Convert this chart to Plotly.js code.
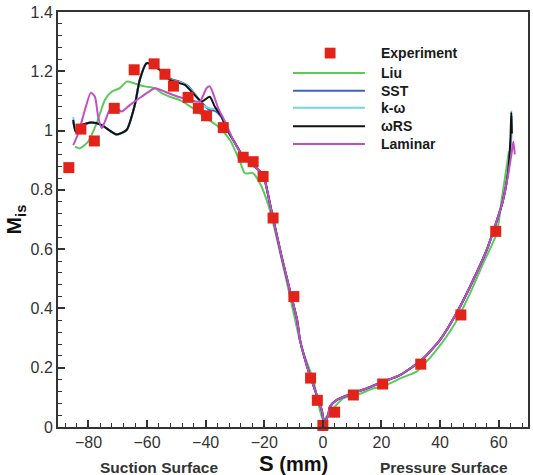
<!DOCTYPE html>
<html>
<head>
<meta charset="utf-8">
<script src="https://cdn.plot.ly/plotly-3.0.1.min.js"></script>
<style>
  html, body { margin: 0; padding: 0; background: #fff; }
  #chart { width: 533px; height: 475px; }
</style>
</head>
<body>
<div id="chart"></div>
<script>
// Isentropic Mach number along the blade surface, S < 0 suction side, S > 0 pressure side

// Measured values
const expS = [-86.7, -82.6, -78, -71.2, -64.4, -57.6, -53.9, -51, -46, -42.5, -39.7, -34, -27.2, -23.8, -20.4, -17, -9.9, -4.2, -1.9, 0, 4, 10.4, 20.4, 33.4, 47.1, 59];
const expM = [0.875, 1.005, 0.965, 1.075, 1.205, 1.225, 1.19, 1.15, 1.112, 1.075, 1.05, 1.01, 0.91, 0.895, 0.845, 0.705, 0.44, 0.165, 0.09, 0.005, 0.05, 0.108, 0.145, 0.212, 0.378, 0.66];

// Liu model
const liuS = [-84.6, -82.9, -80.1, -77.2, -74.4, -72.1, -69.3, -67, -64.2, -60.8, -57.3, -55, -52.2, -48.8, -44.3, -39.7, -35.7, -31.7, -28.3, -26.6, -23.8, -21.5, -19.2, -17.5, -13, -7.3, -3.3, 0.1, 3, 7, 11.5, 17.2, 20, 22.9, 27.4, 32, 33.7, 38.8, 45.1, 50.2, 54.7, 59.3, 61, 63.5];
const liuM = [0.946, 0.94, 0.963, 1.025, 1.103, 1.131, 1.143, 1.165, 1.159, 1.149, 1.143, 1.126, 1.114, 1.103, 1.075, 1.041, 1.013, 0.968, 0.895, 0.856, 0.856, 0.822, 0.766, 0.71, 0.519, 0.271, 0.159, 0.024, 0.057, 0.097, 0.108, 0.13, 0.134, 0.147, 0.168, 0.187, 0.203, 0.26, 0.35, 0.451, 0.552, 0.653, 0.766, 0.93];

// SST model
const sstS = [-85.2, -84.4, -82.9, -79, -75.6, -70.4, -67, -64.2, -62.5, -60.2, -57.9, -55, -52.2, -48.8, -46, -43.5, -41, -38.6, -36.5, -34.6, -32.9, -30.6, -27.2, -22.6, -20.4, -17.5, -14.1, -11.3, -8.8, -7.8, -5, -2.7, -0.4, 0.5, 1.8, 2.4, 4.7, 9.2, 14.9, 20.6, 26.3, 33.7, 39.9, 46.2, 51.3, 55.9, 58.7, 61.5, 63.2, 64.2, 64.4];
const sstM = [1.03, 1.0, 1.016, 1.027, 1.019, 0.987, 1.002, 1.086, 1.171, 1.227, 1.221, 1.2, 1.175, 1.165, 1.15, 1.12, 1.09, 1.07, 1.065, 1.045, 1.008, 0.968, 0.912, 0.873, 0.85, 0.726, 0.575, 0.462, 0.361, 0.293, 0.192, 0.125, 0.057, 0.012, 0.04, 0.068, 0.091, 0.11, 0.13, 0.153, 0.175, 0.226, 0.293, 0.395, 0.496, 0.597, 0.676, 0.766, 0.86, 0.97, 1.05];

// k-omega model
const kwS = [-85.2, -84.4, -82.9, -79, -75.6, -70.4, -67, -64.2, -62.5, -60.2, -57.9, -55, -52.2, -48.8, -46, -43.5, -41, -38.6, -36.3, -34.6, -32.9, -30.6, -27.2, -22.6, -20.4, -17.5, -14.1, -11.3, -8.8, -7.8, -5, -2.7, -0.4, 0.5, 1.8, 2.4, 4.7, 9.2, 14.9, 20.6, 26.3, 33.7, 39.9, 46.2, 51.3, 55.9, 58.7, 61.5, 63.2, 64.2, 64.3];
const kwM = [1.045, 1.0, 1.016, 1.027, 1.019, 0.987, 1.002, 1.086, 1.171, 1.227, 1.221, 1.2, 1.172, 1.163, 1.148, 1.118, 1.086, 1.075, 1.07, 1.047, 1.008, 0.968, 0.912, 0.873, 0.85, 0.726, 0.575, 0.462, 0.361, 0.293, 0.192, 0.125, 0.057, 0.012, 0.04, 0.068, 0.091, 0.11, 0.13, 0.153, 0.175, 0.226, 0.293, 0.395, 0.496, 0.597, 0.676, 0.766, 0.86, 0.97, 1.067];

// omega-RS model
const rsS = [-85.2, -84.4, -82.9, -79, -75.6, -70.4, -67, -64.2, -62.5, -60.2, -57.9, -55, -52.2, -49, -47.1, -44.3, -41.4, -38.6, -36.9, -34.6, -32.9, -30.6, -27.2, -22.6, -20.4, -17.5, -14.1, -11.3, -8.8, -7.8, -5, -2.7, -0.4, 0.5, 1.8, 2.4, 4.7, 9.2, 14.9, 20.6, 26.3, 33.7, 39.9, 46.2, 51.3, 55.9, 58.7, 61.5, 63.2, 64.0, 64.3, 64.5];
const rsM = [1.036, 0.996, 1.016, 1.027, 1.019, 0.987, 1.002, 1.086, 1.171, 1.227, 1.221, 1.199, 1.171, 1.16, 1.154, 1.126, 1.098, 1.114, 1.081, 1.047, 1.008, 0.968, 0.912, 0.873, 0.85, 0.726, 0.575, 0.462, 0.361, 0.293, 0.192, 0.125, 0.057, 0.012, 0.04, 0.068, 0.091, 0.11, 0.13, 0.153, 0.175, 0.226, 0.293, 0.395, 0.496, 0.597, 0.676, 0.766, 0.86, 0.97, 1.06, 0.99];

// Laminar computation
const lamS = [-85.2, -83.5, -81.2, -79.2, -77.8, -76.7, -75.5, -74.4, -72.7, -70.4, -68.7, -65.9, -61.9, -57.3, -53.9, -51.1, -45.4, -42, -39.7, -38.6, -37.5, -35.7, -33.4, -30.6, -27.2, -22.6, -20.4, -17.5, -14.1, -11.3, -8.8, -7.8, -5, -2.7, -0.4, 0.5, 1.8, 2.4, 4.7, 9.2, 14.9, 20.6, 26.3, 33.7, 39.9, 46.2, 51.3, 55.9, 58.7, 61.5, 63.2, 64.4, 65, 65.5];
const lamM = [0.951, 0.99, 1.07, 1.128, 1.114, 1.047, 1.008, 1.03, 1.07, 1.075, 1.064, 1.086, 1.114, 1.143, 1.131, 1.12, 1.103, 1.098, 1.143, 1.149, 1.126, 1.075, 1.03, 0.968, 0.912, 0.873, 0.85, 0.726, 0.575, 0.462, 0.361, 0.293, 0.192, 0.125, 0.057, 0.012, 0.04, 0.068, 0.091, 0.11, 0.13, 0.153, 0.175, 0.226, 0.293, 0.395, 0.496, 0.597, 0.676, 0.766, 0.85, 0.923, 0.962, 0.92];

const seriesNames = ['Experiment', 'Liu', 'SST', 'k-\u03c9', '\u03c9RS', 'Laminar'];
const colors = {
  exp: '#e2231a',
  liu: '#5cc95a',
  sst: '#3f63c4',
  kw: '#6fd8e0',
  rs: '#111111',
  lam: '#c24ec6'
};

const FONT = 'Liberation Sans, Arial, sans-serif';

function curve(x, y, color, name, w) {
  return {
    type: 'scatter', mode: 'lines', x: x, y: y, name: name,
    line: { color: color, width: w || 2, shape: 'spline', smoothing: 0.6 },
    showlegend: false, hoverinfo: 'x+y+name'
  };
}

const traces = [
  curve(liuS, liuM, colors.liu, seriesNames[1]),
  curve(sstS, sstM, colors.sst, seriesNames[2], 2.2),
  curve(kwS, kwM, colors.kw, seriesNames[3]),
  curve(rsS, rsM, colors.rs, seriesNames[4]),
  curve(lamS, lamM, colors.lam, seriesNames[5]),
  {
    type: 'scatter', mode: 'markers', x: expS, y: expM, name: seriesNames[0],
    marker: { symbol: 'square', size: 11, color: colors.exp, line: { width: 0 } },
    showlegend: false, cliponaxis: false
  }
];

// Hand-placed key in the upper right of the plot area (paper coordinates)
const keyRows = [0.901, 0.853, 0.810, 0.769, 0.725, 0.682];
const keyColors = [colors.exp, colors.liu, colors.sst, colors.kw, colors.rs, colors.lam];
const keyLineX0 = 0.50, keyLineX1 = 0.653, keyTextX = 0.683;

const shapes = [];
const annotations = [];
keyRows.forEach(function (yy, i) {
  if (i === 0) {
    shapes.push({
      type: 'rect', xref: 'paper', yref: 'paper',
      x0: 0.5675, x1: 0.5905, y0: yy - 0.013, y1: yy + 0.013,
      fillcolor: colors.exp, line: { width: 0 }
    });
  } else {
    shapes.push({
      type: 'line', xref: 'paper', yref: 'paper',
      x0: keyLineX0, x1: keyLineX1, y0: yy, y1: yy,
      line: { color: keyColors[i], width: 2 }
    });
  }
  annotations.push({
    xref: 'paper', yref: 'paper', x: keyTextX, y: yy,
    xanchor: 'left', yanchor: 'middle', showarrow: false,
    text: '<b>' + seriesNames[i] + '</b>',
    font: { family: FONT, size: 14, color: '#1a1a1a' }
  });
});

// Surface side labels under the axis
annotations.push({
  xref: 'paper', yref: 'paper', x: (159 - 58) / 470, y: -0.0975,
  xanchor: 'center', yanchor: 'middle', showarrow: false,
  text: '<b>Suction Surface</b>',
  font: { family: FONT, size: 15.5, color: '#333' }
});
annotations.push({
  xref: 'paper', yref: 'paper', x: (444 - 58) / 470, y: -0.0975,
  xanchor: 'center', yanchor: 'middle', showarrow: false,
  text: '<b>Pressure Surface</b>',
  font: { family: FONT, size: 15.5, color: '#333' }
});

// x-axis title just below the tick labels
annotations.push({
  xref: 'paper', yref: 'paper', x: 0.5, y: -0.087,
  xanchor: 'center', yanchor: 'middle', showarrow: false,
  text: '<b><span style="font-size:22px">S</span> (mm)</b>',
  font: { family: FONT, size: 20, color: '#111' }
});

const axisCommon = {
  showline: true, linecolor: '#333', linewidth: 2, mirror: true,
  showgrid: false, zeroline: false,
  ticks: 'inside', ticklen: 7, tickwidth: 2, tickcolor: '#333',
  tickfont: { family: FONT, size: 16, color: '#333' }
};

const layout = {
  width: 533, height: 475,
  margin: { l: 58, r: 5, t: 12, b: 48 },
  paper_bgcolor: '#fff', plot_bgcolor: '#fff',
  showlegend: false,
  xaxis: Object.assign({}, axisCommon, {
    range: [-90.4, 70], dtick: 20, tick0: 0,
    minor: { dtick: 4, ticks: 'inside', ticklen: 4, tickwidth: 1, tickcolor: '#333' }
  }),
  yaxis: Object.assign({}, axisCommon, {
    range: [0, 1.4], dtick: 0.2, tick0: 0,
    minor: { dtick: 0.04, ticks: 'inside', ticklen: 4, tickwidth: 1, tickcolor: '#333' },
    title: { text: '<b>M<sub>is</sub></b>', font: { family: FONT, size: 21, color: '#111' }, standoff: 3 }
  }),
  shapes: shapes,
  annotations: annotations
};

Plotly.newPlot('chart', traces, layout, { staticPlot: true, displayModeBar: false });
</script>
</body>
</html>
